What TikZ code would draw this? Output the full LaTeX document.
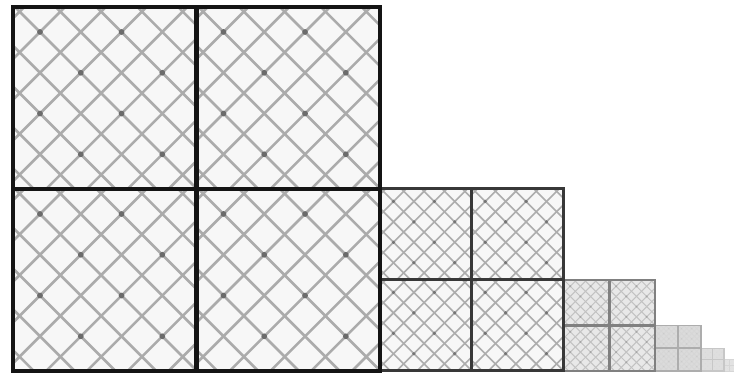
\documentclass[tikz,border=0pt]{standalone}
\usepackage{tikz}
\definecolor{paper}{RGB}{255,255,255}

\begin{document}
\begin{tikzpicture}[
  x=0.1mm, y=-0.1mm,
  tileborder/.style={line join=miter},
  lattice/.style={line cap=butt},
  knot/.style={fill=black!55}
]
  \useasboundingbox[fill=paper] (0,0) rectangle (734,373);

  % mip levels, smallest first so the bigger borders end up on top
  \foreach \k/\bw/\bc/\lw/\lc/\fc/\kc in {
      5/0.8/black!16/0.4/black!10/black!11/black!12,
      4/1.2/black!22/0.5/black!13/black!12/black!15,
      3/1.8/black!32/0.7/black!16/black!14/black!20,
      2/2.4/black!50/1.0/black!24/black!9/black!35,
      1/3.0/black!78/1.6/black!32/black!3/black!55,
      0/4.5/black!92/2.6/black!33/black!3/black!58} {
    \pgfmathsetmacro\s{183.5/2^\k}
    \pgfmathsetmacro\sy{182/2^\k}
    \pgfmathsetmacro\xl{13+734*(1-1/2^\k)}
    \pgfmathsetmacro\d{\s/4.5}
    \pgfmathsetmacro\f{\s/183.5}
    \foreach \i in {0,1} {
      \foreach \j in {0,1} {
        \pgfmathsetmacro\tx{\xl+\i*\s}
        \pgfmathsetmacro\ty{371-(2-\j)*\sy}
        \begin{scope}
          \clip (\tx,\ty) rectangle ++(\s,\sy);
          \fill[\fc] (\tx,\ty) rectangle ++(\s,\sy);
          \foreach \c in {-6,...,10} {
            \draw[lattice, \lc, line width=\lw*0.1mm]
              ({\tx+2*\f+\c*\d},\ty) -- ++(\s+\sy,\s+\sy);
            \draw[lattice, \lc, line width=\lw*0.1mm]
              ({\tx+52*\f+\c*\d},\ty) -- ++(-\s-\sy,\s+\sy);
          }
          % darker knots on some of the crossings
          \foreach \p in {0,...,4} {
            \foreach \q in {0,...,4} {
              \pgfmathparse{int(mod(\p+\q,2))}
              \ifnum\pgfmathresult=0
                \fill[knot, \kc] ({\tx+27*\f+\p*\d},{\ty+25*\f+\q*\d})
                  circle[radius=\lw*1.1];
              \fi
            }
          }
        \end{scope}
      }
    }
    \pgfmathsetmacro\sx{2*\s}
    \pgfmathsetmacro\ytop{371-2*\sy}
    \draw[tileborder, \bc, line width=\bw*0.1mm]
      (\xl,\ytop) rectangle ++(\sx,2*\sy)
      (\xl+\s,\ytop) -- ++(0,2*\sy)
      (\xl,\ytop+\sy) -- ++(\sx,0);
  }
\end{tikzpicture}
\end{document}
